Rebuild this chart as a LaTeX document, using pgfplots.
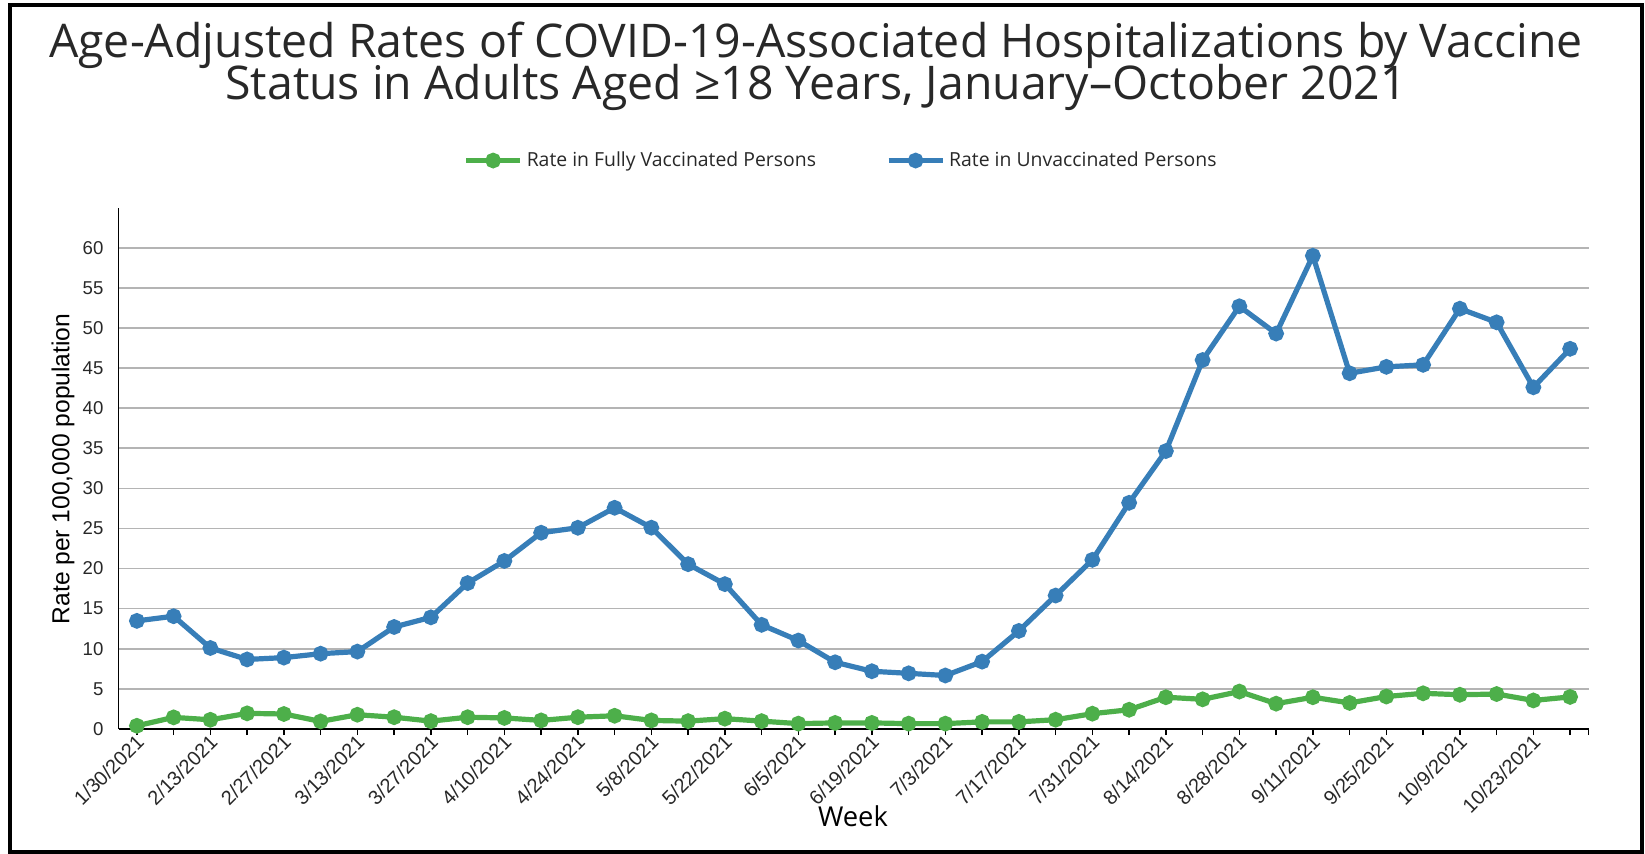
\documentclass[border=0pt]{standalone}
\usepackage{pgfplots}
\pgfplotsset{compat=1.18}
\usepackage{fontspec}
\setmainfont{Open Sans}
\newfontfamily\arial{Liberation Sans}
\definecolor{vgreen}{RGB}{77,175,74}
\definecolor{ublue}{RGB}{55,126,184}
\definecolor{gridgray}{RGB}{180,180,180}
\definecolor{txt}{RGB}{40,40,40}

\begin{document}
\begin{tikzpicture}
\begin{axis}[
  scale only axis, width=735pt, height=260.7pt,
  at={(0,0)}, anchor=south west,
  xmin=-0.5, xmax=39.5, ymin=0, ymax=65,
  axis x line*=bottom, axis y line*=left,
  axis line style={black, line width=0.9pt},
  xtick={0,2,...,38},
  minor xtick={1,3,...,39,39.5},
  xticklabels={1/30/2021,2/13/2021,2/27/2021,3/13/2021,3/27/2021,4/10/2021,4/24/2021,5/8/2021,5/22/2021,6/5/2021,6/19/2021,7/3/2021,7/17/2021,7/31/2021,8/14/2021,8/28/2021,9/11/2021,9/25/2021,10/9/2021,10/23/2021},
  ytick={0,5,...,60},
  ymajorgrids, grid style={gridgray, line width=0.8pt},
  /pgf/number format/assume math mode=true,
  tick label style={font=\arial\fontsize{9.3}{11}\selectfont, text=txt},
  x tick label style={font=\arial\fontsize{10}{12}\selectfont, rotate=45, anchor=east, inner sep=1pt, yshift=-2.5pt, xshift=1pt},
  y tick label style={xshift=-1pt},
  tick align=outside, major tick length=3pt, minor tick length=3pt,
  xtick style={black, line width=0.8pt},
  minor x tick style={black, line width=0.8pt},
  ytick style={draw=none},
  clip=false,
  legend columns=2,
  legend style={at={(0.4922,1.0903)}, anchor=center, draw=none, fill=none,
    font=\fontsize{9.7}{11}\selectfont, text=txt,
    /tikz/every even column/.append style={column sep=33pt}},
  legend image code/.code={\draw[mark repeat=2, mark phase=2, #1] plot coordinates {(0pt,0pt) (13.5pt,0pt) (27pt,0pt)};},
]
\addplot[vgreen, line width=2.6pt, mark=*, mark size=2.6pt] coordinates {
(0,0.4) (1,1.45) (2,1.15) (3,1.95) (4,1.87) (5,0.95) (6,1.78) (7,1.47) (8,0.98) (9,1.47)
(10,1.38) (11,1.07) (12,1.47) (13,1.65) (14,1.07) (15,0.98) (16,1.29) (17,0.98) (18,0.67) (19,0.76)
(20,0.76) (21,0.67) (22,0.67) (23,0.89) (24,0.89) (25,1.16) (26,1.91) (27,2.4) (28,3.96) (29,3.7)
(30,4.67) (31,3.16) (32,3.96) (33,3.25) (34,4.05) (35,4.45) (36,4.27) (37,4.36) (38,3.56) (39,4.0)
};
\addlegendentry{Rate in Fully Vaccinated Persons}
\addplot[ublue, line width=2.6pt, mark=*, mark size=2.6pt] coordinates {
(0,13.48) (1,14.06) (2,10.1) (3,8.67) (4,8.9) (5,9.39) (6,9.65) (7,12.72) (8,13.92) (9,18.19)
(10,20.95) (11,24.47) (12,25.09) (13,27.58) (14,25.1) (15,20.55) (16,18.06) (17,12.99) (18,11.03) (19,8.32)
(20,7.2) (21,6.94) (22,6.67) (23,8.4) (24,12.23) (25,16.64) (26,21.09) (27,28.2) (28,34.65) (29,46.0)
(30,52.7) (31,49.3) (32,59.0) (33,44.35) (34,45.15) (35,45.4) (36,52.4) (37,50.7) (38,42.6) (39,47.4)
};
\addlegendentry{Rate in Unvaccinated Persons}
\end{axis}
% titles and labels
\node[anchor=base, font=\fontsize{23.2}{25}\selectfont, text=txt] at (348.75pt,335.6pt) {Age-Adjusted Rates of COVID-19-Associated Hospitalizations by Vaccine};
\node[anchor=base, font=\fontsize{23.2}{25}\selectfont, text=txt] at (348.75pt,314.6pt) {Status in Adults Aged ≥18 Years, January–October 2021};
\node[rotate=90, font=\arial\fontsize{12.3}{14}\selectfont, text=black] at (-27.75pt,130pt) {Rate per 100,000 population};
\node[anchor=base, font=\fontsize{13.7}{15}\selectfont, text=black] at (367.25pt,-48.85pt) {Week};
\draw[line width=1.8pt] (-54.25pt,-61.5pt) rectangle (761.75pt,362pt);
\pgfresetboundingbox
\useasboundingbox (-59.25pt,-62pt) rectangle (763.25pt,364.5pt);
\end{tikzpicture}
\end{document}
